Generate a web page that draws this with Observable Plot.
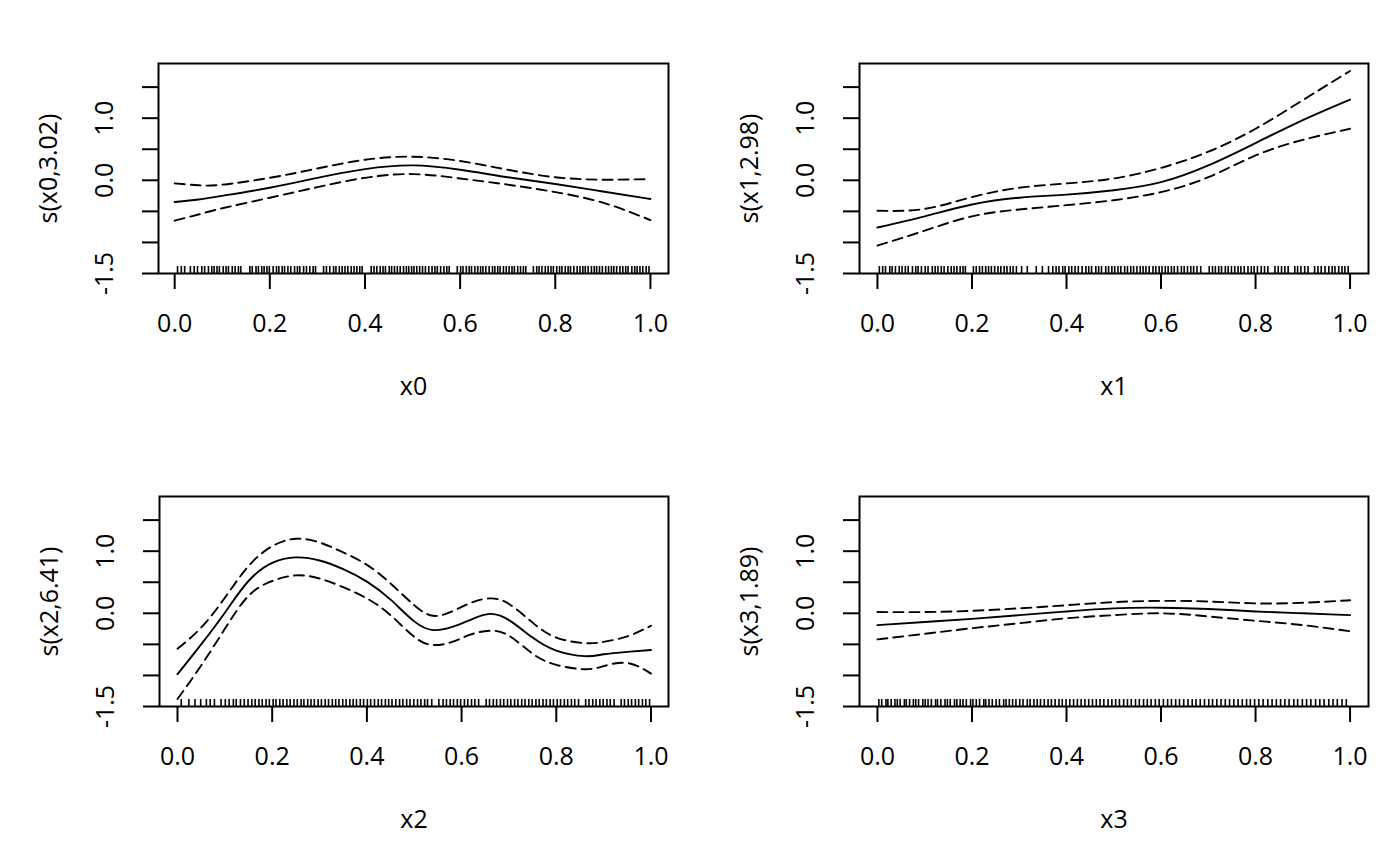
<!DOCTYPE html>
<html><head><meta charset="utf-8">
<script src="https://cdn.jsdelivr.net/npm/d3@7"></script>
<script src="https://cdn.jsdelivr.net/npm/@observablehq/plot@0.6"></script>
<style>
body{margin:0;background:#fff;}
#wrap{position:relative;width:1400px;height:866px;background:#fff;}
#wrap svg{position:absolute;}
</style></head><body><div id="wrap"></div>
<script>
// ---- tick definitions ----
const xTicks = [0, 0.2, 0.4, 0.6, 0.8, 1.0];
const yTicks = [-1.5, -1.0, -0.5, 0.0, 0.5, 1.0, 1.5];
const yTickLabels = [-1.5, 0.0, 1.0];

// ---- panel 1: s(x0,3.02) ----
const x0grid = [0, 0.05, 0.1, 0.2, 0.3, 0.4, 0.5, 0.6, 0.7, 0.8, 0.9, 1.0];
const x0fit  = [-0.35, -0.31, -0.25, -0.12, 0.04, 0.18, 0.24, 0.17, 0.05, -0.06, -0.18, -0.30];
const x0up   = [-0.05, -0.08, -0.07, 0.04, 0.19, 0.33, 0.38, 0.31, 0.17, 0.05, 0.01, 0.02];
const x0lo   = [-0.65, -0.55, -0.45, -0.28, -0.11, 0.04, 0.10, 0.03, -0.07, -0.19, -0.36, -0.64];
const x0rug  = [0.006,0.014,0.021,0.033,0.041,0.048,0.057,0.063,0.071,0.078,0.083,0.089,0.094,0.102,0.108,0.113,0.121,0.127,0.134,0.139,0.158,0.163,0.171,0.176,0.183,0.188,0.194,0.199,0.207,0.214,0.219,0.226,0.231,0.238,0.244,0.252,0.258,0.263,0.271,0.277,0.284,0.291,0.296,0.313,0.319,0.326,0.334,0.339,0.346,0.352,0.358,0.364,0.371,0.377,0.383,0.389,0.394,0.413,0.419,0.425,0.432,0.438,0.443,0.451,0.456,0.462,0.468,0.474,0.481,0.487,0.492,0.498,0.503,0.509,0.515,0.521,0.527,0.534,0.541,0.547,0.552,0.559,0.566,0.572,0.577,0.594,0.601,0.606,0.613,0.619,0.624,0.631,0.637,0.643,0.648,0.654,0.661,0.668,0.673,0.679,0.684,0.691,0.697,0.703,0.709,0.714,0.721,0.727,0.733,0.738,0.754,0.761,0.766,0.772,0.779,0.785,0.791,0.796,0.803,0.809,0.814,0.821,0.827,0.832,0.839,0.846,0.852,0.858,0.863,0.869,0.876,0.882,0.887,0.893,0.899,0.906,0.912,0.918,0.923,0.929,0.936,0.942,0.948,0.953,0.961,0.967,0.972,0.978,0.984,0.991,0.997];

// ---- panel 2: s(x1,2.98) ----
const x1grid = [0, 0.1, 0.2, 0.3, 0.4, 0.5, 0.6, 0.7, 0.8, 0.9, 1.0];
const x1fit  = [-0.76, -0.58, -0.39, -0.28, -0.23, -0.16, -0.03, 0.24, 0.60, 0.97, 1.30];
const x1up   = [-0.49, -0.46, -0.27, -0.12, -0.05, 0.03, 0.20, 0.46, 0.83, 1.29, 1.76];
const x1lo   = [-1.05, -0.81, -0.58, -0.47, -0.40, -0.32, -0.19, 0.05, 0.40, 0.65, 0.83];
const x1rug  = [0.004,0.011,0.017,0.026,0.031,0.038,0.046,0.052,0.059,0.065,0.074,0.081,0.086,0.093,0.101,0.107,0.116,0.122,0.128,0.135,0.141,0.149,0.156,0.162,0.168,0.175,0.181,0.186,0.203,0.209,0.216,0.222,0.229,0.235,0.241,0.248,0.255,0.261,0.268,0.274,0.281,0.287,0.294,0.305,0.317,0.336,0.349,0.362,0.371,0.378,0.384,0.392,0.397,0.405,0.411,0.418,0.425,0.433,0.441,0.447,0.453,0.462,0.468,0.474,0.483,0.489,0.496,0.502,0.509,0.515,0.523,0.529,0.536,0.542,0.549,0.556,0.562,0.568,0.575,0.583,0.589,0.596,0.602,0.609,0.615,0.622,0.628,0.635,0.643,0.649,0.656,0.663,0.669,0.676,0.684,0.702,0.709,0.715,0.722,0.728,0.736,0.742,0.749,0.756,0.763,0.769,0.776,0.784,0.791,0.797,0.804,0.812,0.819,0.826,0.841,0.848,0.855,0.862,0.869,0.883,0.889,0.896,0.904,0.911,0.925,0.932,0.939,0.947,0.955,0.962,0.968,0.976,0.983,0.989,0.996];

// ---- panel 3: s(x2,6.41) ----
const x2grid = [0, 0.05, 0.1, 0.15, 0.2, 0.25, 0.3, 0.35, 0.4, 0.45, 0.5, 0.54, 0.58, 0.62, 0.66, 0.7, 0.75, 0.8, 0.86, 0.9, 0.95, 1.0];
const x2fit  = [-0.98, -0.50, 0.01, 0.52, 0.81, 0.90, 0.85, 0.71, 0.51, 0.22, -0.13, -0.27, -0.22, -0.10, -0.01, -0.11, -0.39, -0.60, -0.69, -0.66, -0.62, -0.59];
const x2up   = [-0.57, -0.23, 0.25, 0.76, 1.08, 1.20, 1.14, 0.98, 0.78, 0.48, 0.13, -0.04, 0.03, 0.17, 0.24, 0.15, -0.15, -0.39, -0.48, -0.46, -0.37, -0.20];
const x2lo   = [-1.38, -0.84, -0.25, 0.28, 0.52, 0.61, 0.56, 0.42, 0.24, -0.03, -0.38, -0.51, -0.46, -0.34, -0.28, -0.36, -0.65, -0.83, -0.90, -0.85, -0.80, -0.97];
const x2rug  = [0.008,0.024,0.037,0.049,0.061,0.069,0.078,0.092,0.101,0.109,0.118,0.124,0.133,0.141,0.149,0.157,0.164,0.172,0.179,0.187,0.194,0.202,0.208,0.216,0.223,0.231,0.238,0.246,0.253,0.261,0.267,0.275,0.282,0.289,0.297,0.304,0.312,0.319,0.327,0.334,0.341,0.349,0.356,0.364,0.371,0.378,0.386,0.393,0.401,0.408,0.416,0.424,0.431,0.439,0.446,0.453,0.461,0.469,0.476,0.484,0.491,0.499,0.507,0.514,0.522,0.528,0.537,0.552,0.561,0.568,0.576,0.583,0.591,0.598,0.606,0.613,0.621,0.628,0.636,0.652,0.659,0.667,0.674,0.682,0.689,0.697,0.704,0.712,0.719,0.727,0.734,0.742,0.749,0.757,0.764,0.772,0.779,0.787,0.794,0.802,0.809,0.817,0.824,0.832,0.839,0.847,0.862,0.869,0.877,0.884,0.892,0.899,0.907,0.914,0.922,0.937,0.944,0.952,0.959,0.967,0.974,0.982,0.989,0.997];

// ---- panel 4: s(x3,1.89) ----
const x3grid = [0, 0.1, 0.2, 0.3, 0.4, 0.5, 0.6, 0.7, 0.8, 0.9, 1.0];
const x3fit  = [-0.19, -0.14, -0.09, -0.03, 0.03, 0.08, 0.09, 0.07, 0.03, 0.00, -0.03];
const x3up   = [0.02, 0.02, 0.04, 0.08, 0.13, 0.18, 0.20, 0.19, 0.16, 0.17, 0.21];
const x3lo   = [-0.42, -0.33, -0.24, -0.16, -0.08, -0.03, 0.00, -0.05, -0.12, -0.19, -0.29];
const x3rug  = [0.003,0.009,0.018,0.022,0.029,0.037,0.042,0.048,0.057,0.061,0.068,0.076,0.081,0.087,0.096,0.101,0.107,0.114,0.123,0.127,0.134,0.143,0.148,0.154,0.163,0.168,0.175,0.181,0.188,0.197,0.202,0.209,0.216,0.225,0.229,0.236,0.243,0.251,0.258,0.267,0.272,0.279,0.286,0.293,0.301,0.308,0.317,0.323,0.331,0.338,0.345,0.353,0.361,0.368,0.376,0.384,0.391,0.399,0.407,0.415,0.423,0.431,0.439,0.447,0.455,0.463,0.471,0.479,0.488,0.496,0.504,0.512,0.521,0.529,0.537,0.546,0.554,0.563,0.571,0.579,0.588,0.596,0.605,0.614,0.622,0.631,0.639,0.648,0.657,0.666,0.674,0.683,0.692,0.701,0.709,0.718,0.727,0.736,0.745,0.754,0.763,0.772,0.781,0.789,0.798,0.807,0.816,0.826,0.835,0.844,0.853,0.862,0.871,0.881,0.889,0.899,0.908,0.917,0.927,0.936,0.945,0.955,0.964,0.973,0.983,0.992];

const yDomain = [-1.5, 1.88];

const panels = [
  {grid:x0grid, fit:x0fit, up:x0up, lo:x0lo, rug:x0rug, xLabel:"x0", yLabel:"s(x0,3.02)", xDomain:[-0.034,1.038], left:0, top:0, mL:158},
  {grid:x1grid, fit:x1fit, up:x1up, lo:x1lo, rug:x1rug, xLabel:"x1", yLabel:"s(x1,2.98)", xDomain:[-0.038,1.039], left:700, top:0, mL:159},
  {grid:x2grid, fit:x2fit, up:x2up, lo:x2lo, rug:x2rug, xLabel:"x2", yLabel:"s(x2,6.41)", xDomain:[-0.038,1.037], left:0, top:433, mL:159},
  {grid:x3grid, fit:x3fit, up:x3up, lo:x3lo, rug:x3rug, xLabel:"x3", yLabel:"s(x3,1.89)", xDomain:[-0.038,1.039], left:700, top:433, mL:159}
];

const fmt = d => d.toFixed(1);
const FS = 25;
const wrap = document.getElementById("wrap");

for (const p of panels) {
  const rows = p.grid.map((x, i) => ({x, fit: p.fit[i], up: p.up[i], lo: p.lo[i]}));
  const W = 700, H = 433, mT = 63, mB = 160, mR = 32;
  const frameH = H - mT - mB;
  const svg = Plot.plot({
    width: W, height: H,
    marginLeft: p.mL, marginRight: mR, marginTop: mT, marginBottom: mB,
    x: {domain: p.xDomain, label: null},
    y: {domain: yDomain, label: null},
    style: {fontFamily: "'Open Sans', sans-serif", fontSize: FS + "px", color: "black", background: "transparent", overflow: "visible"},
    marks: [
      Plot.ruleX(p.rug, {x: d => d, insetTop: frameH - 7, stroke: "black", strokeWidth: 1.6}),
      Plot.line(rows, {x: "x", y: "up", stroke: "black", strokeWidth: 1.9, strokeDasharray: "10,6", curve: "natural"}),
      Plot.line(rows, {x: "x", y: "lo", stroke: "black", strokeWidth: 1.9, strokeDasharray: "10,6", curve: "natural"}),
      Plot.line(rows, {x: "x", y: "fit", stroke: "black", strokeWidth: 1.9, curve: "natural"}),
      Plot.frame({stroke: "black", strokeWidth: 2}),
      Plot.axisX({ticks: xTicks, tickSize: 16, tickPadding: 25, tickFormat: fmt, strokeWidth: 2, label: null, fontSize: FS}),
      Plot.axisY({ticks: yTicks, tickSize: 16, tickFormat: () => "", strokeWidth: 2, label: null}),
      Plot.axisY({ticks: yTickLabels, tickSize: 0, tickPadding: 54, tickFormat: fmt, rotate: -90, textAnchor: "middle", lineAnchor: "middle", label: null, fontSize: FS}),
      Plot.text([p.xLabel], {text: d => d, frameAnchor: "bottom", dy: 104, lineAnchor: "top", fontSize: FS}),
      Plot.text([p.yLabel], {text: d => d, frameAnchor: "left", dx: -110, rotate: -90, textAnchor: "middle", lineAnchor: "middle", fontSize: FS})
    ]
  });
  svg.style.left = p.left + "px";
  svg.style.top = p.top + "px";
  wrap.appendChild(svg);
}
</script>
</body></html>
